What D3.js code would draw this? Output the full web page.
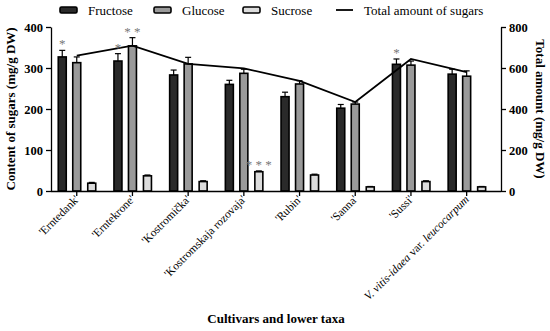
<!DOCTYPE html>
<html>
<head>
<meta charset="utf-8">
<script src="https://cdn.jsdelivr.net/npm/d3@7"></script>
<style>
  body { margin: 0; background: #fff; }
  svg, svg text { font-family: "Liberation Serif", "Times New Roman", serif; }
  .axis .tick text { font-weight: bold; font-size: 12.5px; }
  .axis .tick text.cat { font-weight: normal; font-size: 11.5px; }
  .axis path, .axis line { stroke: #000; stroke-width: 1.3; }
</style>
</head>
<body>
<div id="chart"></div>
<script>
// cultivar names (the last is a lower taxon, drawn with italic parts)
const cultivars = ["'Erntedank'", "'Erntekrone'", "'Kostromička'", "'Kostromskaja rozovaja'",
  "'Rubin'", "'Sanna'", "'Sussi'", "V. vitis-idaea var. leucocarpum"];

// mg/g DW
const fructose = [327, 317, 283, 260, 230, 202, 309, 285];
const glucose = [313, 354, 310, 287, 261, 212, 307, 280];
const sucrose = [19, 37, 23, 47, 39, 10, 23, 10];
const fructoseErr = [16, 18, 12, 10, 11, 9, 13, 12];
const glucoseErr = [14, 20, 16, 10, 8, 5, 10, 13];
const sucroseErr = [2, 2, 2, 2, 2, 1, 2, 1];
const totalSugars = [660, 709, 620, 598, 537, 434, 644, 580];

// significance marks: [category index, series, text]
const stars = [[0, "fructose", "*"], [1, "fructose", "*"], [1, "glucose", "* *"],
  [3, "sucrose", "* * *"], [6, "fructose", "*"]];

const leftTicks = [0, 100, 200, 300, 400];
const rightTicks = [0, 200, 400, 600, 800];

const width = 550, height = 331;
const svg = d3.select("#chart").append("svg")
  .attr("width", width).attr("height", height);

const x = d3.scaleBand().domain(cultivars).range([48.9, 494.5]).padding(0);
const y = d3.scaleLinear().domain([0, 400]).range([191, 27]);
const y2 = d3.scaleLinear().domain([0, 800]).range([191, 27]);

const series = [
  { key: "fructose", name: "Fructose", values: fructose, err: fructoseErr, fill: "#2a2a2a", dx: -14.5 },
  { key: "glucose", name: "Glucose", values: glucose, err: glucoseErr, fill: "#9a9a9a", dx: 0 },
  { key: "sucrose", name: "Sucrose", values: sucrose, err: sucroseErr, fill: "#dcdcdc", dx: 15 }
];
const barW = 8;
const cx = (c) => x(c) + x.bandwidth() / 2;

// bars + error bars
series.forEach(s => {
  const g = svg.append("g").attr("class", "bars-" + s.key);
  const err = g.selectAll("g.err").data(cultivars).join("g").attr("class", "err")
    .attr("stroke", "#000").attr("stroke-width", 1.2);
  err.append("line")
    .attr("x1", (c) => cx(c) + s.dx).attr("x2", (c) => cx(c) + s.dx)
    .attr("y1", (c, i) => y(s.values[i])).attr("y2", (c, i) => y(s.values[i] + s.err[i]));
  err.append("line")
    .attr("x1", (c) => cx(c) + s.dx - 3).attr("x2", (c) => cx(c) + s.dx + 3)
    .attr("y1", (c, i) => y(s.values[i] + s.err[i])).attr("y2", (c, i) => y(s.values[i] + s.err[i]));
  g.selectAll("rect").data(cultivars).join("rect")
    .attr("x", (c) => cx(c) + s.dx - barW / 2)
    .attr("y", (c, i) => y(s.values[i]))
    .attr("width", barW)
    .attr("height", (c, i) => y(0) - y(s.values[i]))
    .attr("fill", s.fill)
    .attr("stroke", "#000")
    .attr("stroke-width", 1.6);
});

// total line on right axis
svg.append("path")
  .datum(totalSugars)
  .attr("fill", "none")
  .attr("stroke", "#000")
  .attr("stroke-width", 1.8)
  .attr("d", d3.line().x((d, i) => cx(cultivars[i])).y((d) => y2(d)));

// significance stars
svg.append("g").selectAll("text").data(stars).join("text")
  .attr("x", (d) => cx(cultivars[d[0]]) + series.find(s => s.key === d[1]).dx)
  .attr("y", (d) => {
    const s = series.find(s => s.key === d[1]);
    return y(s.values[d[0]] + s.err[d[0]]) - 2;
  })
  .attr("text-anchor", "middle")
  .attr("fill", "#777")
  .attr("font-size", 13)
  .text((d) => d[2]);

// axes
svg.append("g").attr("class", "axis")
  .attr("transform", "translate(51,0)")
  .call(d3.axisLeft(y).tickValues(leftTicks).tickSize(5).tickPadding(3).tickSizeOuter(0))
  .attr("font-family", null);
svg.append("g").attr("class", "axis")
  .attr("transform", "translate(501,0)")
  .call(d3.axisRight(y2).tickValues(rightTicks).tickSize(5).tickPadding(3).tickSizeOuter(0))
  .attr("font-family", null);
const axisB = svg.append("g").attr("class", "axis")
  .attr("transform", "translate(0,191)")
  .call(d3.axisBottom(x).tickSize(5).tickSizeOuter(0))
  .attr("font-family", null);
axisB.select(".domain").attr("d", "M51,0.5H501");
axisB.selectAll(".tick text").remove();

// rotated category labels
const labels = axisB.selectAll(".tick").append("text")
  .attr("class", "cat")
  .attr("fill", "#000")
  .attr("text-anchor", "end")
  .attr("transform", "translate(3,9) rotate(-45)");
labels.each(function (c) {
  const t = d3.select(this);
  if (c.startsWith("V.")) {
    t.append("tspan").attr("font-style", "italic").text("V. vitis-idaea");
    t.append("tspan").text(" var. ");
    t.append("tspan").attr("font-style", "italic").text("leucocarpum");
  } else {
    t.text(c);
  }
});

// axis titles
svg.append("text")
  .attr("transform", "translate(15,109) rotate(-90)")
  .attr("text-anchor", "middle")
  .attr("font-weight", "bold").attr("font-size", 13)
  .text("Content of sugars (mg/g DW)");
svg.append("text")
  .attr("transform", "translate(536,109) rotate(90)")
  .attr("text-anchor", "middle")
  .attr("font-weight", "bold").attr("font-size", 13)
  .text("Total amount (mg/g DW)");
svg.append("text")
  .attr("x", 276).attr("y", 323)
  .attr("text-anchor", "middle")
  .attr("font-weight", "bold").attr("font-size", 13)
  .text("Cultivars and lower taxa");

// legend
const legendItems = [
  { name: "Fructose", fill: "#2a2a2a", x: 60 },
  { name: "Glucose", fill: "#9a9a9a", x: 154 },
  { name: "Sucrose", fill: "#dcdcdc", x: 243 },
  { name: "Total amount of sugars", fill: null, x: 336 }
];
const leg = svg.append("g").selectAll("g").data(legendItems).join("g")
  .attr("transform", (d) => `translate(${d.x},0)`);
leg.filter((d) => d.fill).append("rect")
  .attr("x", 0).attr("y", 7).attr("width", 17).attr("height", 6).attr("rx", 1.5)
  .attr("fill", (d) => d.fill).attr("stroke", "#000").attr("stroke-width", 1.6);
leg.filter((d) => !d.fill).append("line")
  .attr("x1", 0).attr("x2", 17).attr("y1", 10).attr("y2", 10)
  .attr("stroke", "#000").attr("stroke-width", 1.8);
leg.append("text")
  .attr("x", 28).attr("y", 15)
  .attr("font-size", 13)
  .text((d) => d.name);
</script>
</body>
</html>
